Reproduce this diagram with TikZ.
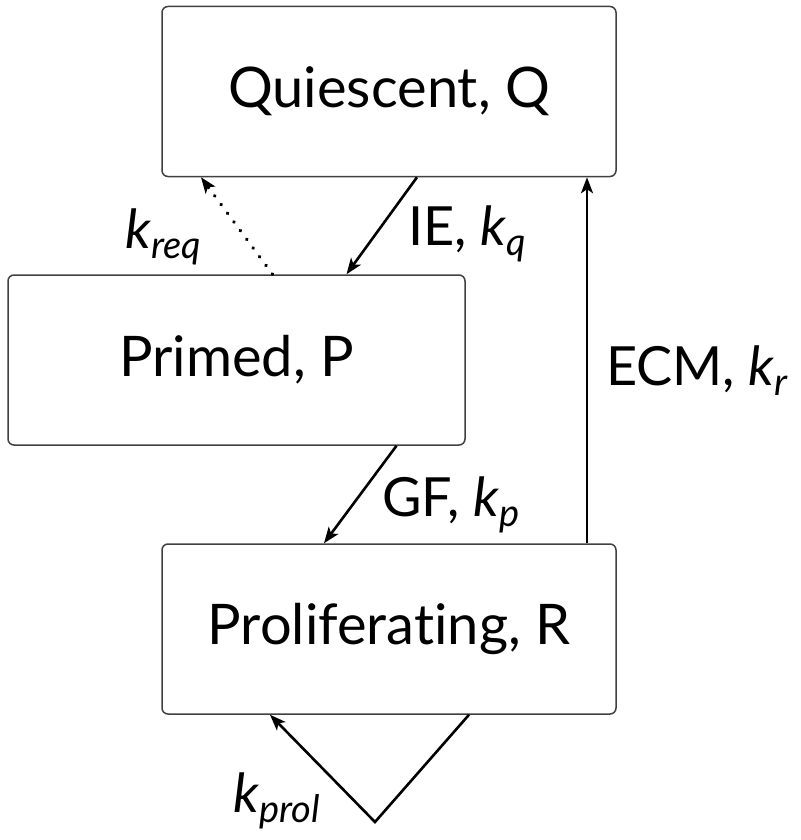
\documentclass[tikz,border=0pt]{standalone}
\usepackage{fontspec}
\setmainfont{Lato}[Ligatures=NoCommon]
\usetikzlibrary{arrows.meta,calc}
\newcommand{\ratek}[1]{\textit{k}\raisebox{-0.2em}{\fontsize{38}{40}\selectfont\itshape #1}}
\tikzset{
  state/.style={draw=black!75, line width=1.5pt, rounded corners=6pt,
    minimum width=454pt, minimum height=170pt, inner sep=0pt,
    font=\fontsize{56}{62}\selectfont},
  lbl/.style={inner sep=0pt, anchor=base west, font=\fontsize{54}{60}\selectfont},
  flow/.style={line width=2.6pt, -{Stealth[length=16pt,width=12pt,inset=4pt]}},
  dots/.style={line width=3.6pt, line cap=round, dash pattern=on 0.3pt off 10.5pt}
}
\begin{document}
\begin{tikzpicture}[x=1pt,y=-1pt]
\useasboundingbox (0,0) rectangle (800,840);
\node[state] (Q) at (389,91.5) {Quiescent, Q};
\node[state, minimum width=457pt] (P) at (236.5,360) {Primed, P};
\node[state] (R) at (389,629) {Proliferating, R};

\draw[flow] ([xshift=28pt]Q.south) -- ([xshift=110pt]P.north);
\draw[dots] ([xshift=36pt]P.north) -- ($([xshift=-188pt]Q.south)!12pt!([xshift=36pt]P.north)$);
\draw[flow] ($([xshift=-188pt]Q.south)!14pt!([xshift=36pt]P.north)$) -- ([xshift=-188pt]Q.south);
\draw[flow] ([xshift=160pt]P.south) -- ([xshift=-65pt]R.north);
\draw[flow] ([xshift=198pt]R.north) -- ([xshift=198pt]Q.south);
\coordinate (loop) at (375,822);
\draw[flow, line join=miter] ([xshift=80pt]R.south) -- (loop) -- ([xshift=-119pt]R.south);

\node[lbl] (lIE) at (408,245) {IE, \ratek{q}};
\node[lbl] (lreq) at (125,248) {\ratek{req}};
\node[lbl] (lECM) at (606,385) {ECM, \ratek{r}};
\node[lbl] (lGF) at (382,516) {GF, \ratek{p}};
\node[lbl] (lprol) at (233,812) {\ratek{prol}};
\end{tikzpicture}
\end{document}
